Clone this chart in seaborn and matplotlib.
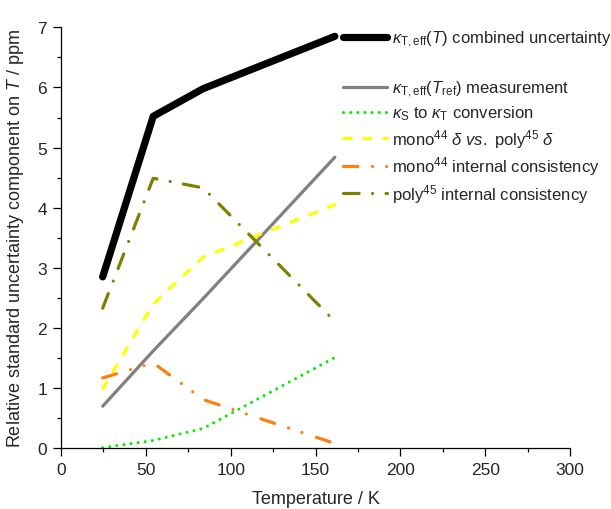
import numpy as np
import pandas as pd
import matplotlib
matplotlib.use("Agg")
import matplotlib.pyplot as plt
from matplotlib.ticker import MultipleLocator
import seaborn as sns

# ---- data ----
temperature = [24.56, 54.36, 83.81, 161.41]
combined = [2.85, 5.52, 5.98, 6.85]
measurement = [0.70, 1.62, 2.49, 4.84]
conversion = [0.01, 0.13, 0.33, 1.51]
mono_vs_poly = [0.99, 2.40, 3.18, 4.05]
mono_internal = [1.17, 1.42, 0.81, 0.08]
poly_internal = [2.33, 4.49, 4.33, 2.11]

labels = [
    r"$\kappa_{\mathrm{T,eff}}(T)$ combined uncertainty",
    r"$\kappa_{\mathrm{T,eff}}(T_{\mathrm{ref}})$ measurement",
    r"$\kappa_{\mathrm{S}}$ to $\kappa_{\mathrm{T}}$ conversion",
    r"mono$^{44}$ $\delta$ $vs.$ poly$^{45}$ $\delta$",
    r"mono$^{44}$ internal consistency",
    r"poly$^{45}$ internal consistency",
]
x_ticks = [0, 50, 100, 150, 200, 250, 300]
y_ticks = [0, 1, 2, 3, 4, 5, 6, 7]

sns.set_style("ticks")
plt.rcParams["font.family"] = ["Liberation Sans", "DejaVu Sans"]
plt.rcParams["mathtext.fontset"] = "custom"
plt.rcParams["mathtext.rm"] = "Liberation Sans"
plt.rcParams["mathtext.it"] = "Liberation Sans:italic"
plt.rcParams["mathtext.bf"] = "Liberation Sans:bold"

fig = plt.figure(figsize=(6.11, 5.10), dpi=100)
ax = fig.add_axes([61 / 611, 1 - 449.3 / 510, (570 - 61) / 611, (449.3 - 28.3) / 510])

series = [
    (combined, dict(color="black", lw=5.2, linestyle="-", solid_capstyle="round")),
    (measurement, dict(color="#808080", lw=2.3, linestyle="-", solid_capstyle="round")),
    (conversion, dict(color="#00ee00", lw=2.2, linestyle=(0, (0.01, 2.33)),
                      dash_capstyle="round")),
    (mono_vs_poly, dict(color="#ffff00", lw=2.3, linestyle=(0, (2.4, 3.9)),
                        dash_capstyle="round")),
    (mono_internal, dict(color="#ff7f0e", lw=2.3,
                         linestyle=(0, (4.5, 4.6, 0.01, 4.4, 0.01, 4.8)),
                         dash_capstyle="round")),
    (poly_internal, dict(color="#808000", lw=2.3,
                         linestyle=(0, (4.9, 4.2, 0.01, 4.2)),
                         dash_capstyle="round")),
]

handles = []
for (vals, style), lab in zip(series, labels):
    sns.lineplot(x=temperature, y=vals, ax=ax, estimator=None, sort=False,
                 legend=False, label=lab, clip_on=False, **style)
    handles.append(ax.get_lines()[-1])

ax.set_xlim(0, 300)
ax.set_ylim(0, 7)
ax.set_xticks(x_ticks)
ax.set_yticks(y_ticks)
ax.xaxis.set_minor_locator(MultipleLocator(25))
ax.yaxis.set_minor_locator(MultipleLocator(0.5))
ax.tick_params(which="major", direction="out", length=6, width=0.9, labelsize=12.5,
               pad=4, color="black")
ax.tick_params(which="minor", direction="out", length=3, width=0.9, color="black")
for s in ["top", "right"]:
    ax.spines[s].set_visible(False)
for s in ["left", "bottom"]:
    ax.spines[s].set_linewidth(0.9)
    ax.spines[s].set_color("black")

ax.set_xlabel("Temperature / K", fontsize=13, labelpad=9)
ax.set_ylabel(r"Relative standard uncertainty component on $T$ / ppm", fontsize=13,
              labelpad=8)

leg_kw = dict(loc="upper left", frameon=False, fontsize=12, handlelength=2.65,
              handletextpad=0.3, labelspacing=0.27, borderpad=0, borderaxespad=0)
fig.legend(handles[:1], labels[:1], bbox_to_anchor=(343 / 611, 1 - 30 / 510), **leg_kw)
fig.legend(handles[1:], labels[1:], bbox_to_anchor=(343 / 611, 1 - 80 / 510), **leg_kw)

fig.savefig("out.png", dpi=100)
